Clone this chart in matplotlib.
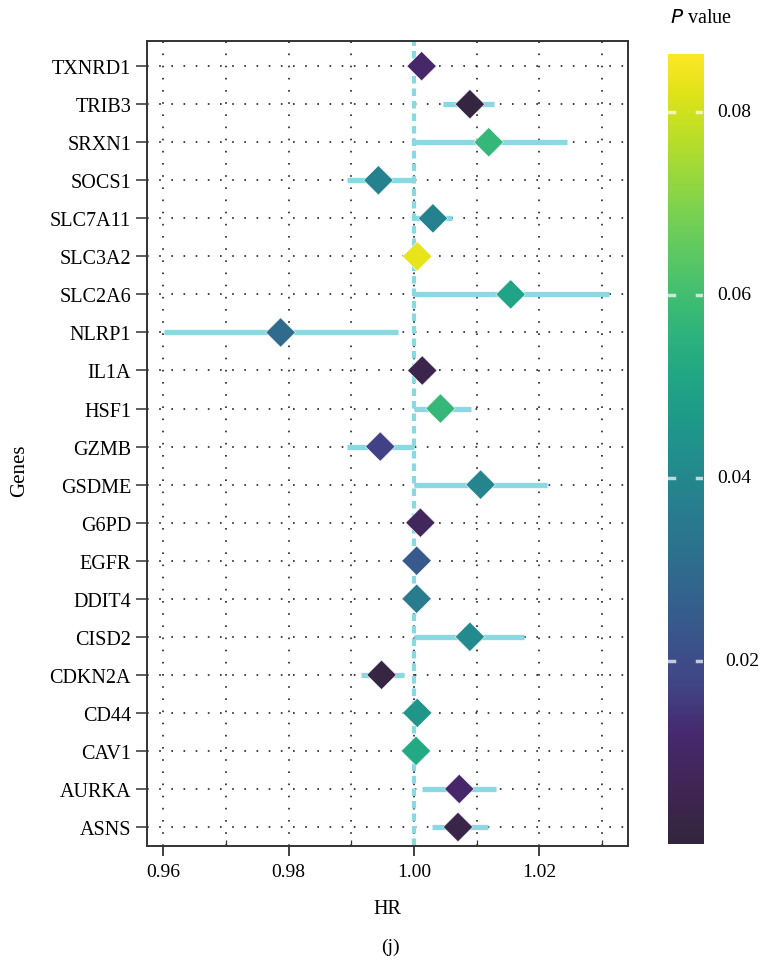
import matplotlib
matplotlib.use("Agg")
import matplotlib.pyplot as plt
import numpy as np
from matplotlib import colors

plt.rcParams["font.family"] = ["Liberation Serif", "DejaVu Serif"]

genes = ["ASNS", "AURKA", "CAV1", "CD44", "CDKN2A", "CISD2", "DDIT4", "EGFR",
         "G6PD", "GSDME", "GZMB", "HSF1", "IL1A", "NLRP1", "SLC2A6", "SLC3A2",
         "SLC7A11", "SOCS1", "SRXN1", "TRIB3", "TXNRD1"]
hr = [1.0070, 1.0072, 1.0003, 1.0005, 0.9948, 1.0089, 1.0004, 1.0004,
      1.0010, 1.0106, 0.9946, 1.0042, 1.0013, 0.9787, 1.0154, 1.0005,
      1.0030, 0.9943, 1.0119, 1.0089, 1.0012]
hr_low = [1.0029, 1.0013, 1.0000, 1.0000, 0.9915, 1.0000, 1.0000, 1.0000,
          1.0002, 1.0000, 0.9893, 1.0000, 1.0005, 0.9601, 1.0000, 1.0000,
          1.0000, 0.9893, 1.0000, 1.0046, 1.0005]
hr_high = [1.0118, 1.0130, 1.0006, 1.0010, 0.9984, 1.0175, 1.0008, 1.0008,
           1.0018, 1.0212, 1.0000, 1.0090, 1.0021, 0.9974, 1.0311, 1.0010,
           1.0060, 1.0000, 1.0244, 1.0127, 1.0019]
pvals = [0.003, 0.011, 0.052, 0.045, 0.002, 0.041, 0.036, 0.024,
         0.008, 0.039, 0.017, 0.057, 0.004, 0.030, 0.050, 0.083,
         0.038, 0.038, 0.057, 0.001, 0.011]
xticks = [0.96, 0.98, 1.00, 1.02]
xtick_labels = ["0.96", "0.98", "1.00", "1.02"]
cbar_ticks = [0.02, 0.04, 0.06, 0.08]
p_max = 0.0863

ci_color = "#8ad8e2"

# viridis with a muted, darker low end
vir = plt.get_cmap("viridis")
stops = [(0.0, "#33253d"), (0.06, "#3f2552"), (0.14, "#47296f")]
stops += [(v, colors.to_hex(vir(v))) for v in np.linspace(0.2, 1.0, 17)]
cmap = colors.LinearSegmentedColormap.from_list("pval", stops)
norm = colors.Normalize(vmin=0.0, vmax=p_max)

fig = plt.figure(figsize=(7.62, 9.62), dpi=100)
ax = fig.add_axes([0.193, 0.1195, 0.631, 0.8368])

y = np.arange(1, len(genes) + 1)

# dotted guide grid
for xv in np.arange(0.96, 1.0301, 0.01):
    ax.axvline(xv, color="#222222", lw=1.2, linestyle=(0, (1, 6.3)), zorder=0.5)
for yv in y:
    ax.axhline(yv, color="#222222", lw=1.2, linestyle=(0, (1, 6.3)), zorder=0.5)

# confidence intervals
ax.hlines(y, hr_low, hr_high, color=ci_color, lw=3.8, zorder=2)
# reference line at HR = 1
ax.axvline(1.0, color=ci_color, lw=3.0, linestyle=(0, (1.8, 1.2)), zorder=2.5)
# point estimates
ax.scatter(hr, y, c=pvals, cmap=cmap, norm=norm, marker="D", s=225,
           edgecolors="white", linewidths=0.4, zorder=3)

ax.set_xlim(0.9574, 1.0341)
ax.set_ylim(0.5, 21.66)
ax.set_yticks(y)
ax.set_yticklabels(genes, fontsize=14.5)
ax.set_xticks(xticks)
ax.set_xticklabels(xtick_labels, fontsize=14)
ax.set_xticks(np.arange(0.97, 1.031, 0.02), minor=True)
ax.tick_params(axis="x", which="major", direction="out", length=7, width=1.3,
               pad=5, color="#333333")
ax.tick_params(axis="x", which="minor", direction="in", length=4, width=0.9,
               color="#333333")
ax.tick_params(axis="y", direction="out", length=8, width=1.1, pad=3.5,
               color="#333333")
for sp in ax.spines.values():
    sp.set_linewidth(1.4)
    sp.set_color("#333333")

ax.set_xlabel("HR", fontsize=14.5, labelpad=14)
fig.text(0.026, 0.511, "Genes", rotation=90, fontsize=15, ha="center",
         va="center")

# colour bar
cax = fig.add_axes([0.8766, 0.1216, 0.046, 0.8212])
grad = np.linspace(0, p_max, 256).reshape(-1, 1)
cax.imshow(grad, aspect="auto", cmap=cmap, norm=norm, origin="lower",
           extent=[0, 1, 0, p_max])
cax.set_xlim(0, 1)
cax.set_ylim(0, p_max)
cax.set_xticks([])
cax.set_yticks([])
for sp in cax.spines.values():
    sp.set_visible(False)
for t in cbar_ticks:
    cax.plot([0, 0.18], [t, t], color="white", lw=2.5, alpha=0.7)
    cax.plot([0.82, 1], [t, t], color="white", lw=2.5, alpha=0.7)
    dx = 1.63 if t == 0.02 else 1.4
    cax.text(dx, t, f"{t:.2f}", fontsize=14, va="center", ha="left",
             clip_on=False)
fig.text(0.879, 0.981, r"$\it{P}$ value", fontsize=14.5, ha="left",
         va="center")

fig.text(0.512, 0.015, "(j)", fontsize=14, ha="center", va="center")

fig.savefig("out.png", dpi=100)
